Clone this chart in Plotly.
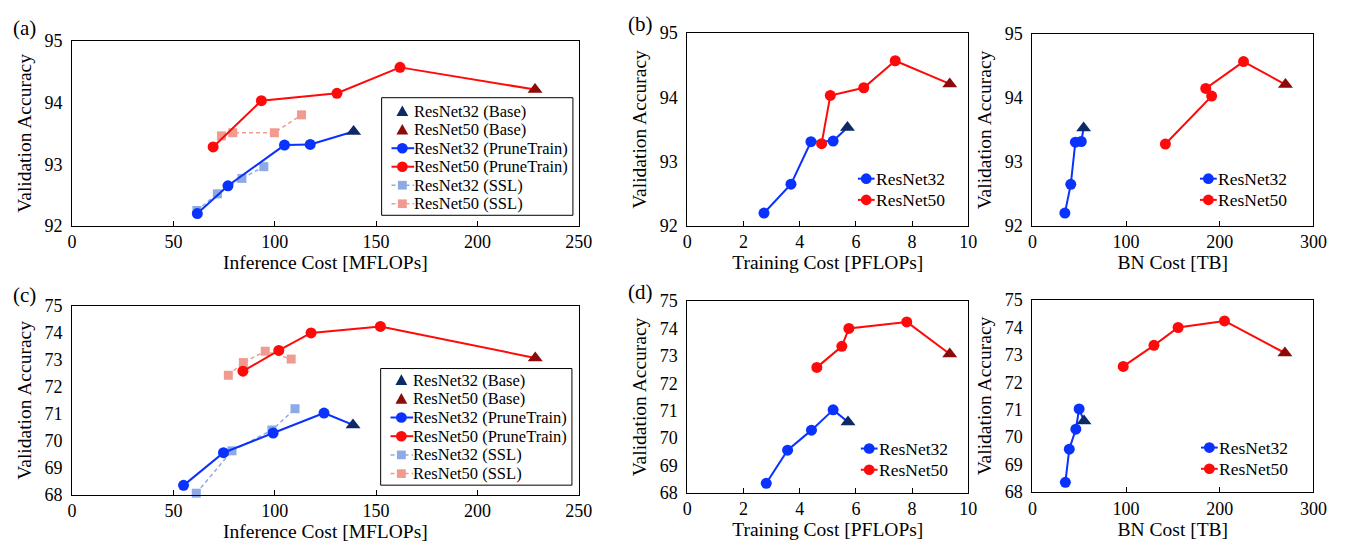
import plotly.graph_objects as go

# ---------------- data ----------------
# CIFAR-10 accuracies
c10_r32_pt_acc = [92.20, 92.65, 93.31, 93.32]
c10_r50_pt_acc = [93.28, 94.03, 94.15, 94.57]
c10_r32_base_acc = [93.53]
c10_r50_base_acc = [94.21]
c10_r32_ssl_acc = [92.25, 92.52, 92.77, 92.96]
c10_r50_ssl_acc = [93.46, 93.51, 93.51, 93.80]

# (a) inference cost [MFLOPs]
a_r32_pt_x = [61.8, 76.9, 104.8, 117.5]
a_r50_pt_x = [69.6, 93.4, 130.7, 161.8]
a_r32_base_x = [138.9]
a_r50_base_x = [228.4]
a_r32_ssl_x = [61.6, 71.7, 83.8, 94.6]
a_r50_ssl_x = [73.7, 79.3, 99.8, 113.2]

# (b) training cost [PFLOPs]
b_r32_x = [2.73, 3.69, 4.40, 5.19]
b_r50_x = [4.78, 5.09, 6.28, 7.40]
b_r32_base_x = [5.70]
b_r50_base_x = [9.34]

# (b) BN cost [TB]
bn10_r32_x = [34.7, 41.0, 45.9, 52.2]
bn10_r50_x = [142.0, 191.4, 185.1, 225.4]
bn10_r32_base_x = [54.7]
bn10_r50_base_x = [270.2]

# CIFAR-100 accuracies
c100_r32_pt_acc = [68.35, 69.56, 70.29, 71.03]
c100_r50_pt_acc = [72.58, 73.35, 74.00, 74.24]
c100_r32_base_acc = [70.59]
c100_r50_base_acc = [73.07]
c100_r32_ssl_acc = [68.06, 69.63, 70.40, 71.19]
c100_r50_ssl_acc = [72.43, 72.90, 73.32, 73.03]

# (c) inference cost [MFLOPs]
c_r32_pt_x = [55.0, 74.7, 99.2, 124.3]
c_r50_pt_x = [84.3, 102.0, 117.9, 152.1]
c_r32_base_x = [138.6]
c_r50_base_x = [228.5]
c_r32_ssl_x = [61.3, 78.9, 98.6, 110.0]
c_r50_ssl_x = [77.1, 84.5, 95.3, 108.1]

# (d) training cost [PFLOPs]
d_r32_x = [2.81, 3.57, 4.42, 5.19]
d_r50_x = [4.61, 5.50, 5.75, 7.81]
d_r32_base_x = [5.72]
d_r50_base_x = [9.34]

# (d) BN cost [TB]
bn100_r32_x = [35.2, 39.4, 46.4, 49.9]
bn100_r50_x = [97.0, 129.8, 155.6, 205.1]
bn100_r32_base_x = [55.1]
bn100_r50_base_x = [269.6]

# legend labels
full_labels = ["ResNet32 (Base)", "ResNet50 (Base)", "ResNet32 (PruneTrain)",
               "ResNet50 (PruneTrain)", "ResNet32 (SSL)", "ResNet50 (SSL)"]
short_labels = ["ResNet32", "ResNet50"]

# ---------------- styling ----------------
BLUE = "#0a32ff"
RED = "#ff0a0a"
NAVY = "#0d2a66"
DRED = "#8c0a0a"
LBLUE = "#8eaae6"
SALMON = "#f39a90"
FONT = "Liberation Serif, Times New Roman, Times, serif"

W, H = 1354, 553

fig = go.Figure()


def add_panel(ax, r32_x, r32_y, r50_x, r50_y, r32_bx, r32_by, r50_bx, r50_by,
              r32_ssl=None, r50_ssl=None):
    xa = "x" if ax == 1 else f"x{ax}"
    ya = "y" if ax == 1 else f"y{ax}"
    common = dict(xaxis=xa, yaxis=ya, cliponaxis=False, showlegend=False)
    if r32_ssl is not None:
        fig.add_trace(go.Scatter(x=r32_ssl[0], y=r32_ssl[1], mode="lines+markers",
                                 name="ResNet32 (SSL)",
                                 line=dict(color=LBLUE, width=1.5, dash="4px,3px"),
                                 marker=dict(symbol="square", size=9, color=LBLUE),
                                 **common))
        fig.add_trace(go.Scatter(x=r50_ssl[0], y=r50_ssl[1], mode="lines+markers",
                                 name="ResNet50 (SSL)",
                                 line=dict(color=SALMON, width=1.5, dash="4px,3px"),
                                 marker=dict(symbol="square", size=9, color=SALMON),
                                 **common))
    # connectors from last pruned point to base
    fig.add_trace(go.Scatter(x=[r32_x[-1], r32_bx[0]], y=[r32_y[-1], r32_by[0]],
                             mode="lines", line=dict(color=BLUE, width=2),
                             hoverinfo="skip", **common))
    fig.add_trace(go.Scatter(x=[r50_x[-1], r50_bx[0]], y=[r50_y[-1], r50_by[0]],
                             mode="lines", line=dict(color=RED, width=2),
                             hoverinfo="skip", **common))
    fig.add_trace(go.Scatter(x=r32_x, y=r32_y, mode="lines+markers",
                             name="ResNet32 (PruneTrain)",
                             line=dict(color=BLUE, width=2),
                             marker=dict(symbol="circle", size=11, color=BLUE), **common))
    fig.add_trace(go.Scatter(x=r50_x, y=r50_y, mode="lines+markers",
                             name="ResNet50 (PruneTrain)",
                             line=dict(color=RED, width=2),
                             marker=dict(symbol="circle", size=11, color=RED), **common))
    fig.add_trace(go.Scatter(x=r32_bx, y=r32_by, mode="markers",
                             name="ResNet32 (Base)",
                             marker=dict(symbol="triangle-up", size=13, color=NAVY), **common))
    fig.add_trace(go.Scatter(x=r50_bx, y=r50_by, mode="markers",
                             name="ResNet50 (Base)",
                             marker=dict(symbol="triangle-up", size=13, color=DRED), **common))


add_panel(1, a_r32_pt_x, c10_r32_pt_acc, a_r50_pt_x, c10_r50_pt_acc,
          a_r32_base_x, c10_r32_base_acc, a_r50_base_x, c10_r50_base_acc,
          (a_r32_ssl_x, c10_r32_ssl_acc), (a_r50_ssl_x, c10_r50_ssl_acc))
add_panel(2, b_r32_x, c10_r32_pt_acc, b_r50_x, c10_r50_pt_acc,
          b_r32_base_x, c10_r32_base_acc, b_r50_base_x, c10_r50_base_acc)
add_panel(3, bn10_r32_x, c10_r32_pt_acc, bn10_r50_x, c10_r50_pt_acc,
          bn10_r32_base_x, c10_r32_base_acc, bn10_r50_base_x, c10_r50_base_acc)
add_panel(4, c_r32_pt_x, c100_r32_pt_acc, c_r50_pt_x, c100_r50_pt_acc,
          c_r32_base_x, c100_r32_base_acc, c_r50_base_x, c100_r50_base_acc,
          (c_r32_ssl_x, c100_r32_ssl_acc), (c_r50_ssl_x, c100_r50_ssl_acc))
add_panel(5, d_r32_x, c100_r32_pt_acc, d_r50_x, c100_r50_pt_acc,
          d_r32_base_x, c100_r32_base_acc, d_r50_base_x, c100_r50_base_acc)
add_panel(6, bn100_r32_x, c100_r32_pt_acc, bn100_r50_x, c100_r50_pt_acc,
          bn100_r32_base_x, c100_r32_base_acc, bn100_r50_base_x, c100_r50_base_acc)


def px_x(p):
    return p / W


def px_y(p):
    return 1 - p / H


# axis pixel boxes: (left, right, top, bottom)
boxes = {
    1: (68, 582, 32, 224),
    2: (692, 977, 24, 224),
    3: (1042, 1327, 25, 224),
    4: (68, 582, 307, 503),
    5: (692, 977, 302, 501),
    6: (1042, 1327, 301, 500),
}
xtitles = {1: "Inference Cost [MFLOPs]", 2: "Training Cost [PFLOPs]", 3: "BN Cost [TB]",
           4: "Inference Cost [MFLOPs]", 5: "Training Cost [PFLOPs]", 6: "BN Cost [TB]"}
xranges = {1: (0, 250, 50), 2: (0, 10, 2), 3: (0, 300, 100),
           4: (0, 250, 50), 5: (0, 10, 2), 6: (0, 300, 100)}
yranges = {1: (92, 95), 2: (92, 95), 3: (92, 95), 4: (68, 75), 5: (68, 75), 6: (68, 75)}

layout = {}
for i in range(1, 7):
    l, r, t, b = boxes[i]
    xk = "xaxis" if i == 1 else f"xaxis{i}"
    yk = "yaxis" if i == 1 else f"yaxis{i}"
    xr = xranges[i]
    layout[xk] = dict(domain=[px_x(l), px_x(r)], anchor="y" if i == 1 else f"y{i}",
                      range=[xr[0], xr[1]], dtick=xr[2], tick0=0,
                      showline=True, linecolor="black", linewidth=1, mirror=True,
                      showgrid=False, zeroline=False, ticks="inside", ticklen=5,
                      tickcolor="black", tickfont=dict(family=FONT, size=18, color="black"),
                      title=dict(text=xtitles[i], standoff=3,
                                 font=dict(family=FONT, size=19.5, color="black")))
    yr = yranges[i]
    layout[yk] = dict(domain=[px_y(b), px_y(t)], anchor="x" if i == 1 else f"x{i}",
                      range=[yr[0], yr[1]], dtick=1,
                      showline=True, linecolor="black", linewidth=1, mirror=True,
                      showgrid=False, zeroline=False, ticks="", ticklabelstandoff=5,
                      tickfont=dict(family=FONT, size=18, color="black"),
                      title=dict(text="Validation Accuracy", standoff=7,
                                 font=dict(family=FONT, size=19.5, color="black")))

# ---------------- legends (drawn in pixel layout) ----------------
shapes = []
annotations = []

SYMS = {
    "ResNet32 (Base)": ("triangle", NAVY, None),
    "ResNet50 (Base)": ("triangle", DRED, None),
    "ResNet32 (PruneTrain)": ("circle", BLUE, "solid"),
    "ResNet50 (PruneTrain)": ("circle", RED, "solid"),
    "ResNet32 (SSL)": ("square", LBLUE, "4px,3px"),
    "ResNet50 (SSL)": ("square", SALMON, "4px,3px"),
    "ResNet32": ("circle", BLUE, "solid"),
    "ResNet50": ("circle", RED, "solid"),
}


def legend_entry(label, cy, lx0, lx1, mx, tx, fsize):
    sym, color, dash = SYMS[label]
    if dash is not None:
        shapes.append(dict(type="line", xref="paper", yref="paper",
                           x0=px_x(lx0), x1=px_x(lx1), y0=px_y(cy), y1=px_y(cy),
                           line=dict(color=color, width=2 if dash == "solid" else 1.5,
                                     dash=dash)))
    if sym == "circle":
        r = 5.5
        shapes.append(dict(type="circle", xref="paper", yref="paper",
                           x0=px_x(mx - r), x1=px_x(mx + r), y0=px_y(cy + r), y1=px_y(cy - r),
                           fillcolor=color, line=dict(width=0)))
    elif sym == "square":
        r = 4.5
        shapes.append(dict(type="rect", xref="paper", yref="paper",
                           x0=px_x(mx - r), x1=px_x(mx + r), y0=px_y(cy + r), y1=px_y(cy - r),
                           fillcolor=color, line=dict(width=0)))
    else:
        r = 6
        path = (f"M {px_x(mx - r)},{px_y(cy + 5)} L {px_x(mx + r)},{px_y(cy + 5)} "
                f"L {px_x(mx)},{px_y(cy - 6)} Z")
        shapes.append(dict(type="path", xref="paper", yref="paper", path=path,
                           fillcolor=color, line=dict(width=0)))
    annotations.append(dict(text=label, x=px_x(tx), y=px_y(cy), xref="paper", yref="paper",
                            showarrow=False, xanchor="left", yanchor="middle",
                            font=dict(family=FONT, size=fsize, color="black")))


def big_legend(left, right, top, bottom, first, step):
    shapes.append(dict(type="rect", xref="paper", yref="paper",
                       x0=px_x(left), x1=px_x(right), y0=px_y(bottom), y1=px_y(top),
                       fillcolor="white", line=dict(color="black", width=1)))
    for k, lab in enumerate(full_labels):
        cy = top + first + k * step
        legend_entry(lab, cy, left + 10, left + 33, left + 21, left + 31, 16.5)


def small_legend(x0, y1, y2):
    for lab, cy in zip(short_labels, [y1, y2]):
        legend_entry(lab, cy, x0, x0 + 17, x0 + 8.5, x0 + 16, 17.5)


big_legend(382, 576, 91, 213, 14, 19.2)
big_legend(381, 575, 372, 493, 12, 19.4)
small_legend(865, 175, 197)
small_legend(1212, 175, 197)
small_legend(868, 455, 477)
small_legend(1213, 454, 476)

for txt, xp, yp in [("(a)", 20, 19), ("(b)", 645, 15), ("(c)", 20, 296), ("(d)", 645, 293)]:
    annotations.append(dict(text=txt, x=px_x(xp), y=px_y(yp), xref="paper", yref="paper",
                            showarrow=False, xanchor="center", yanchor="middle",
                            font=dict(family=FONT, size=21, color="black")))

fig.update_layout(**layout)
fig.update_layout(width=W, height=H, margin=dict(l=0, r=0, t=0, b=0),
                  paper_bgcolor="white", plot_bgcolor="white", showlegend=False,
                  shapes=shapes, annotations=annotations,
                  font=dict(family=FONT, color="black"))

fig.write_html("out.html", config={"displayModeBar": False},
               post_script="document.body.style.margin='0';")
